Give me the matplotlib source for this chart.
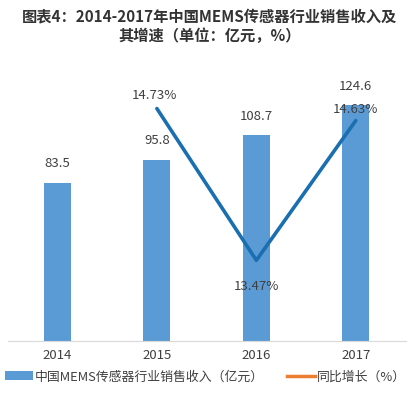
import matplotlib
matplotlib.use("Agg")
import matplotlib.pyplot as plt
from matplotlib.patches import Patch
from matplotlib.lines import Line2D

plt.rcParams['font.family'] = ['Noto Sans CJK SC', 'DejaVu Sans']

years = ["2014", "2015", "2016", "2017"]
revenue = [83.5, 95.8, 108.7, 124.6]
growth_years = ["2015", "2016", "2017"]
growth = [14.73, 13.47, 14.63]

title = "图表4：2014-2017年中国MEMS传感器行业销售收入及\n其增速（单位：亿元，%）"
bar_label = "中国MEMS传感器行业销售收入（亿元）"
line_label = "同比增长（%）"

fig = plt.figure(figsize=(4.19, 3.96), dpi=100)
ax = fig.add_axes([0.0184, 0.1389, 0.9494, 0.6691])
x = list(range(len(years)))
ax.bar(x, revenue, width=0.27, color='#5b9bd5', zorder=2)
ax.set_xlim(-0.5, 3.5)
ax.set_ylim(0, 140)
for xi, v in zip(x, revenue):
    ax.annotate(f"{v}", (xi, v), xytext=(0, 9), textcoords='offset points',
                ha='center', va='bottom', fontsize=9.5, color='#404040')
ax.set_xticks(x)
ax.set_xticklabels(years, fontsize=9.5, color='#404040')
ax.tick_params(axis='x', length=0, pad=6)
ax.set_yticks([])
for s in ['left', 'right', 'top']:
    ax.spines[s].set_visible(False)
ax.spines['bottom'].set_color('#d9d9d9')

ax2 = ax.twinx()
gx = [years.index(y) for y in growth_years]
ax2.plot(gx, growth, color='#1a6fb0', lw=2.6, zorder=3, solid_capstyle='round')
ax2.set_ylim(12.8, 15.0)
ax2.set_yticks([])
for s in ['left', 'right', 'top', 'bottom']:
    ax2.spines[s].set_visible(False)
offsets = [(-2, 5), (0, -14), (0, 3)]
vas = ['bottom', 'top', 'bottom']
for xi, v, off, va in zip(gx, growth, offsets, vas):
    ax2.annotate(f"{v:.2f}%", (xi, v), xytext=off, textcoords='offset points',
                 ha='center', va=va, fontsize=9.5, color='#404040')

fig.text(0.5, 0.978, title, ha='center', va='top', fontsize=11,
         fontweight='bold', color='#333333', linespacing=1.25)

handles = [Patch(facecolor='#5b9bd5', edgecolor='none'),
           Line2D([0], [0], color='#ED7D31', lw=2.5)]
fig.legend(handles, [bar_label, line_label], loc='center', bbox_to_anchor=(0.49, 0.048),
           ncol=2, frameon=False, fontsize=9.3, labelcolor='#404040',
           handlelength=2.2, handletextpad=0.1, columnspacing=1.8,
           borderaxespad=0, borderpad=0)

fig.savefig("out.png", dpi=100, facecolor='white')
